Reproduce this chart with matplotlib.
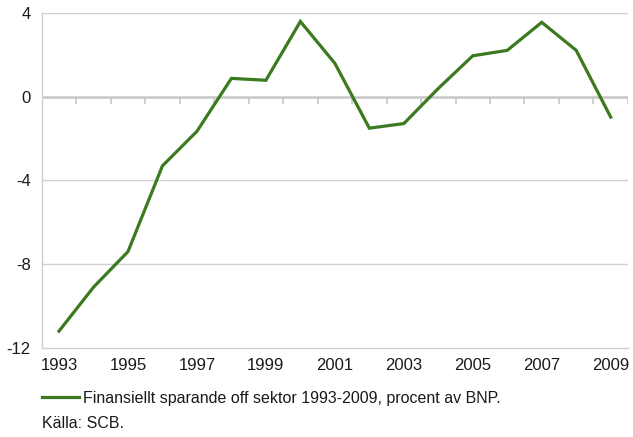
import numpy as np
import matplotlib
matplotlib.use("Agg")
import matplotlib.pyplot as plt

# Finansiellt sparande, offentlig sektor, procent av BNP
years = list(range(1993, 2010))
sparande = [-11.2, -9.1, -7.4, -3.3, -1.65, 0.88, 0.79, 3.6, 1.6, -1.5,
            -1.28, 0.4, 1.96, 2.22, 3.56, 2.22, -0.97]
yticks = [-12, -8, -4, 0, 4]
year_labels = [str(y) for y in years[::2]]

plt.rcParams['font.family'] = ['Liberation Sans', 'DejaVu Sans']

fig = plt.figure(figsize=(6.33, 4.37), dpi=100)
ax = fig.add_axes([0.066, 0.204, 0.926, 0.766])

x = np.arange(len(years))
ax.plot(x, sparande, color='#3b7a1f', linewidth=2.3, solid_joinstyle='miter',
        label='Finansiellt sparande off sektor 1993-2009, procent av BNP.', zorder=3)

ax.set_xlim(-0.5, len(years) - 0.5)
ax.set_ylim(-12, 4)
ax.set_yticks(yticks)
ax.set_yticklabels([str(v) for v in yticks])
ax.set_xticks(x[::2])
ax.set_xticklabels(year_labels)
ax.tick_params(axis='x', length=0, pad=7, labelsize=12, labelcolor='#1a1a1a')
ax.tick_params(axis='y', length=0, pad=8, labelsize=12, labelcolor='#1a1a1a')

# grid
for v in yticks:
    if v not in (0, -12):
        ax.axhline(v, color='#d0d0d0', linewidth=1.0, zorder=1)

for side in ['top', 'right']:
    ax.spines[side].set_visible(False)
ax.spines['left'].set_color('#cfcfcf')
ax.spines['bottom'].set_color('#cfcfcf')
ax.spines['left'].set_linewidth(1.0)
ax.spines['bottom'].set_linewidth(1.0)

# category axis crossing at zero, with ticks between categories
ax.axhline(0, color='#c6c6c6', linewidth=1.8, zorder=2)
boundaries = np.arange(0.5, len(years), 1.0)
ax.vlines(boundaries, -0.34, 0, color='#c6c6c6', linewidth=1.2, zorder=2)

fig.legend(loc='center left', bbox_to_anchor=(0.066, 0.089), frameon=False,
           fontsize=11.5, handlelength=2.3, handletextpad=0.3, borderaxespad=0,
           borderpad=0, labelcolor='#1a1a1a')
fig.text(0.066, 0.02, 'Källa: SCB.', fontsize=11.5, color='#1a1a1a')

fig.savefig('out.png', dpi=100, facecolor='white')
